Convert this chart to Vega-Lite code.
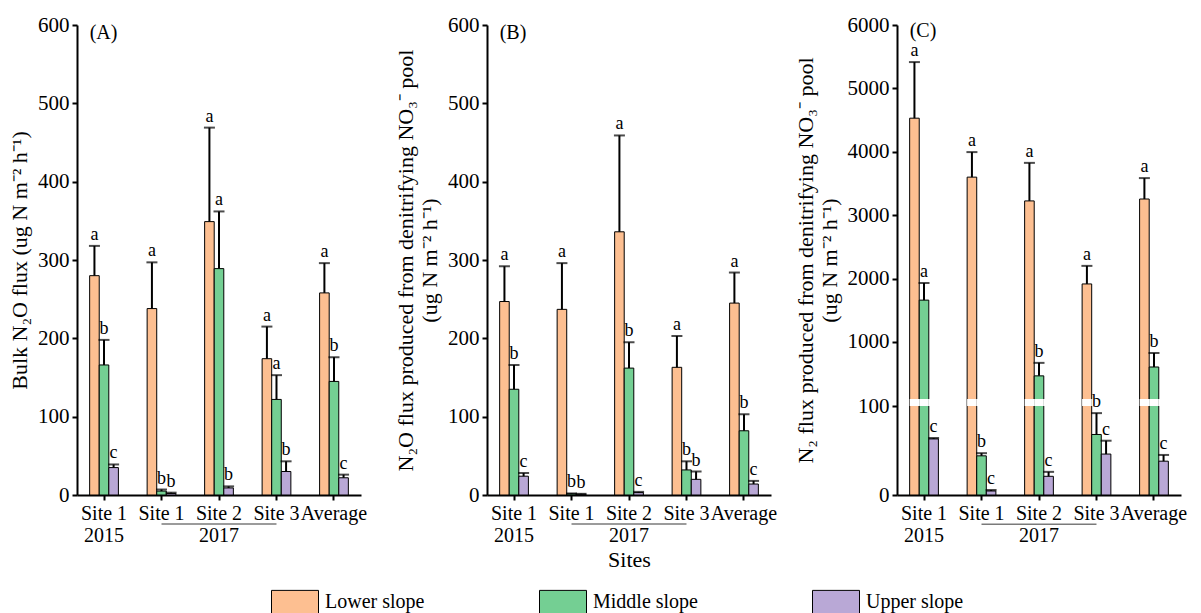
{
  "$schema": "https://vega.github.io/schema/vega-lite/v6.json",
  "background": "white",
  "padding": {"left": 8, "top": 14, "right": 5, "bottom": 0},
  "autosize": {"type": "pad"},
  "datasets": {
    "bars": [
      {"panel": "A", "site": "Site 1 2015", "slope": "Lower slope", "value": 280, "err": 318, "letter": "a"},
      {"panel": "A", "site": "Site 1 2015", "slope": "Middle slope", "value": 166, "err": 198, "letter": "b"},
      {"panel": "A", "site": "Site 1 2015", "slope": "Upper slope", "value": 35, "err": 39, "letter": "c"},
      {"panel": "A", "site": "Site 1 2017", "slope": "Lower slope", "value": 238, "err": 297, "letter": "a"},
      {"panel": "A", "site": "Site 1 2017", "slope": "Middle slope", "value": 5, "err": 7, "letter": "b"},
      {"panel": "A", "site": "Site 1 2017", "slope": "Upper slope", "value": 2, "err": 3, "letter": "b"},
      {"panel": "A", "site": "Site 2", "slope": "Lower slope", "value": 349, "err": 469, "letter": "a"},
      {"panel": "A", "site": "Site 2", "slope": "Middle slope", "value": 289, "err": 362, "letter": "a"},
      {"panel": "A", "site": "Site 2", "slope": "Upper slope", "value": 9, "err": 11, "letter": "b"},
      {"panel": "A", "site": "Site 3", "slope": "Lower slope", "value": 174, "err": 215, "letter": "a"},
      {"panel": "A", "site": "Site 3", "slope": "Middle slope", "value": 122, "err": 153, "letter": "a"},
      {"panel": "A", "site": "Site 3", "slope": "Upper slope", "value": 30, "err": 43, "letter": "b"},
      {"panel": "A", "site": "Average", "slope": "Lower slope", "value": 258, "err": 296, "letter": "a"},
      {"panel": "A", "site": "Average", "slope": "Middle slope", "value": 145, "err": 176, "letter": "b"},
      {"panel": "A", "site": "Average", "slope": "Upper slope", "value": 22, "err": 26, "letter": "c"},
      {"panel": "B", "site": "Site 1 2015", "slope": "Lower slope", "value": 247, "err": 292, "letter": "a"},
      {"panel": "B", "site": "Site 1 2015", "slope": "Middle slope", "value": 135, "err": 166, "letter": "b"},
      {"panel": "B", "site": "Site 1 2015", "slope": "Upper slope", "value": 24, "err": 28, "letter": "c"},
      {"panel": "B", "site": "Site 1 2017", "slope": "Lower slope", "value": 237, "err": 296, "letter": "a"},
      {"panel": "B", "site": "Site 1 2017", "slope": "Middle slope", "value": 1.5, "err": 2, "letter": "b"},
      {"panel": "B", "site": "Site 1 2017", "slope": "Upper slope", "value": 1, "err": 1.5, "letter": "b"},
      {"panel": "B", "site": "Site 2", "slope": "Lower slope", "value": 336, "err": 459, "letter": "a"},
      {"panel": "B", "site": "Site 2", "slope": "Middle slope", "value": 162, "err": 195, "letter": "b"},
      {"panel": "B", "site": "Site 2", "slope": "Upper slope", "value": 3, "err": 4, "letter": "c"},
      {"panel": "B", "site": "Site 3", "slope": "Lower slope", "value": 163, "err": 203, "letter": "a"},
      {"panel": "B", "site": "Site 3", "slope": "Middle slope", "value": 32, "err": 43, "letter": "b"},
      {"panel": "B", "site": "Site 3", "slope": "Upper slope", "value": 20, "err": 30, "letter": "b"},
      {"panel": "B", "site": "Average", "slope": "Lower slope", "value": 245, "err": 284, "letter": "a"},
      {"panel": "B", "site": "Average", "slope": "Middle slope", "value": 82, "err": 103, "letter": "b"},
      {"panel": "B", "site": "Average", "slope": "Upper slope", "value": 14, "err": 18, "letter": "c"},
      {"panel": "C", "site": "Site 1 2015", "slope": "Lower slope", "value": 4530, "err": 5415, "letter": "a"},
      {"panel": "C", "site": "Site 1 2015", "slope": "Middle slope", "value": 1660, "err": 1930, "letter": "a"},
      {"panel": "C", "site": "Site 1 2015", "slope": "Upper slope", "value": 63, "err": 64, "letter": "c"},
      {"panel": "C", "site": "Site 1 2017", "slope": "Lower slope", "value": 3600, "err": 3995, "letter": "a"},
      {"panel": "C", "site": "Site 1 2017", "slope": "Middle slope", "value": 44, "err": 47, "letter": "b"},
      {"panel": "C", "site": "Site 1 2017", "slope": "Upper slope", "value": 4.5, "err": 5.6, "letter": "c"},
      {"panel": "C", "site": "Site 2", "slope": "Lower slope", "value": 3225, "err": 3825, "letter": "a"},
      {"panel": "C", "site": "Site 2", "slope": "Middle slope", "value": 465, "err": 670, "letter": "b"},
      {"panel": "C", "site": "Site 2", "slope": "Upper slope", "value": 21, "err": 26, "letter": "c"},
      {"panel": "C", "site": "Site 3", "slope": "Lower slope", "value": 1915, "err": 2200, "letter": "a"},
      {"panel": "C", "site": "Site 3", "slope": "Middle slope", "value": 68, "err": 92, "letter": "b"},
      {"panel": "C", "site": "Site 3", "slope": "Upper slope", "value": 46, "err": 61, "letter": "c"},
      {"panel": "C", "site": "Average", "slope": "Lower slope", "value": 3255, "err": 3585, "letter": "a"},
      {"panel": "C", "site": "Average", "slope": "Middle slope", "value": 605, "err": 826, "letter": "b"},
      {"panel": "C", "site": "Average", "slope": "Upper slope", "value": 38, "err": 45, "letter": "c"}
    ]
  },
  "spacing": 126,
  "bounds": "flush",
  "resolve": {"scale": {"x": "independent", "y": "independent", "color": "shared"}},
  "hconcat": [
    {
      "width": 284, "height": 470,
      "layer": [
        {
          "data": {"name": "bars"},
          "transform": [{"filter": "datum.panel === 'A'"}],
          "encoding": {
            "x": {"field": "site", "type": "nominal", "scale": {"domain": ["Site 1 2015", "Site 1 2017", "Site 2", "Site 3", "Average"], "paddingInner": 0.5, "paddingOuter": 0.22}, "axis": {"title": null, "labelExpr": "datum.value === 'Site 1 2015' ? ['Site 1','2015'] : datum.value === 'Site 1 2017' ? 'Site 1' : datum.value === 'Site 2' ? ['Site 2','2017'] : datum.value"}},
            "xOffset": {"field": "slope", "type": "nominal", "scale": {"domain": ["Lower slope", "Middle slope", "Upper slope"], "paddingInner": 0, "paddingOuter": 0}}
          },
          "layer": [
            {"mark": {"type": "bar", "stroke": "black", "strokeWidth": 1},
             "encoding": {
               "y": {"field": "value", "type": "quantitative", "title": "Bulk N₂O flux (ug N m⁻² h⁻¹)", "scale": {"domain": [0, 600], "nice": false}, "axis": {"values": [0, 100, 200, 300, 400, 500, 600], "format": "d"}},
               "color": {"field": "slope", "type": "nominal", "title": null, "scale": {"domain": ["Lower slope", "Middle slope", "Upper slope"], "range": ["#FDBF91", "#74CF93", "#B9A8D6"]}}
             }},
            {"mark": {"type": "rule", "color": "black", "strokeWidth": 2},
             "encoding": {"y": {"field": "value", "type": "quantitative", "title": "Bulk N₂O flux (ug N m⁻² h⁻¹)"}, "y2": {"field": "err"}}},
            {"mark": {"type": "tick", "color": "black", "thickness": 2, "size": 11},
             "encoding": {"y": {"field": "err", "type": "quantitative", "title": "Bulk N₂O flux (ug N m⁻² h⁻¹)"}}},
            {"mark": {"type": "text", "baseline": "bottom", "dy": -2, "fontSize": 18, "color": "black"},
             "encoding": {"y": {"field": "err", "type": "quantitative", "title": "Bulk N₂O flux (ug N m⁻² h⁻¹)"}, "text": {"field": "letter"}}}
          ]
        },
        {
          "data": {"values": [{}]},
          "mark": {"type": "rule", "color": "#7a7a7a", "strokeWidth": 1.5},
          "encoding": {"x": {"datum": "Site 1 2017"}, "x2": {"datum": "Site 3"}, "y": {"datum": -37}}
        },
        {
          "data": {"values": [{"label": "(A)"}]},
          "mark": {"type": "text", "align": "left", "baseline": "middle", "fontSize": 20, "dy": 8, "color": "black"},
          "encoding": {"x": {"datum": "Site 1 2015", "bandPosition": 0}, "y": {"datum": 600}, "text": {"field": "label"}}
        }
      ]
    },
    {
      "width": 284, "height": 470,
      "layer": [
        {
          "data": {"name": "bars"},
          "transform": [{"filter": "datum.panel === 'B'"}],
          "encoding": {
            "x": {"field": "site", "type": "nominal", "scale": {"domain": ["Site 1 2015", "Site 1 2017", "Site 2", "Site 3", "Average"], "paddingInner": 0.5, "paddingOuter": 0.22}, "axis": {"title": "Sites", "titleFontSize": 22, "titlePadding": 4, "labelExpr": "datum.value === 'Site 1 2015' ? ['Site 1','2015'] : datum.value === 'Site 1 2017' ? 'Site 1' : datum.value === 'Site 2' ? ['Site 2','2017'] : datum.value"}},
            "xOffset": {"field": "slope", "type": "nominal", "scale": {"domain": ["Lower slope", "Middle slope", "Upper slope"], "paddingInner": 0, "paddingOuter": 0}}
          },
          "layer": [
            {"mark": {"type": "bar", "stroke": "black", "strokeWidth": 1},
             "encoding": {
               "y": {"field": "value", "type": "quantitative", "title": ["N₂O flux produced from denitrifying NO₃⁻ pool", "(ug N m⁻² h⁻¹)"], "scale": {"domain": [0, 600], "nice": false}, "axis": {"values": [0, 100, 200, 300, 400, 500, 600], "format": "d"}},
               "color": {"field": "slope", "type": "nominal", "title": null, "scale": {"domain": ["Lower slope", "Middle slope", "Upper slope"], "range": ["#FDBF91", "#74CF93", "#B9A8D6"]}}
             }},
            {"mark": {"type": "rule", "color": "black", "strokeWidth": 2},
             "encoding": {"y": {"field": "value", "type": "quantitative", "title": ["N₂O flux produced from denitrifying NO₃⁻ pool", "(ug N m⁻² h⁻¹)"]}, "y2": {"field": "err"}}},
            {"mark": {"type": "tick", "color": "black", "thickness": 2, "size": 11},
             "encoding": {"y": {"field": "err", "type": "quantitative", "title": ["N₂O flux produced from denitrifying NO₃⁻ pool", "(ug N m⁻² h⁻¹)"]}}},
            {"mark": {"type": "text", "baseline": "bottom", "dy": -2, "fontSize": 18, "color": "black"},
             "encoding": {"y": {"field": "err", "type": "quantitative", "title": ["N₂O flux produced from denitrifying NO₃⁻ pool", "(ug N m⁻² h⁻¹)"]}, "text": {"field": "letter"}}}
          ]
        },
        {
          "data": {"values": [{}]},
          "mark": {"type": "rule", "color": "#7a7a7a", "strokeWidth": 1.5},
          "encoding": {"x": {"datum": "Site 1 2017"}, "x2": {"datum": "Site 3"}, "y": {"datum": -37}}
        },
        {
          "data": {"values": [{"label": "(B)"}]},
          "mark": {"type": "text", "align": "left", "baseline": "middle", "fontSize": 20, "dy": 8, "color": "black"},
          "encoding": {"x": {"datum": "Site 1 2015", "bandPosition": 0}, "y": {"datum": 600}, "text": {"field": "label"}}
        }
      ]
    },
    {
      "width": 284, "height": 470,
      "layer": [
        {
          "data": {"name": "bars"},
          "transform": [{"filter": "datum.panel === 'C'"}],
          "encoding": {
            "x": {"field": "site", "type": "nominal", "scale": {"domain": ["Site 1 2015", "Site 1 2017", "Site 2", "Site 3", "Average"], "paddingInner": 0.5, "paddingOuter": 0.22}, "axis": {"title": null, "labelExpr": "datum.value === 'Site 1 2015' ? ['Site 1','2015'] : datum.value === 'Site 1 2017' ? 'Site 1' : datum.value === 'Site 2' ? ['Site 2','2017'] : datum.value"}},
            "xOffset": {"field": "slope", "type": "nominal", "scale": {"domain": ["Lower slope", "Middle slope", "Upper slope"], "paddingInner": 0, "paddingOuter": 0}}
          },
          "layer": [
            {"mark": {"type": "bar", "stroke": "black", "strokeWidth": 1},
             "encoding": {
               "y": {"field": "value", "type": "quantitative", "title": ["N₂ flux produced from denitrifying NO₃⁻ pool", "(ug N m⁻² h⁻¹)"], "scale": {"type": "linear", "domain": [0, 100, 100.01, 6000], "range": [470, 381, 374, 0], "nice": false, "zero": false}, "axis": {"values": [0, 100, 1000, 2000, 3000, 4000, 5000, 6000], "format": "d"}},
               "color": {"field": "slope", "type": "nominal", "title": null, "scale": {"domain": ["Lower slope", "Middle slope", "Upper slope"], "range": ["#FDBF91", "#74CF93", "#B9A8D6"]}}
             }},
            {"mark": {"type": "rect", "color": "white"},
             "encoding": {"y": {"datum": 100}, "y2": {"datum": 100.01}}},
            {"mark": {"type": "rule", "color": "black", "strokeWidth": 2},
             "encoding": {"y": {"field": "value", "type": "quantitative", "title": ["N₂ flux produced from denitrifying NO₃⁻ pool", "(ug N m⁻² h⁻¹)"]}, "y2": {"field": "err"}}},
            {"mark": {"type": "tick", "color": "black", "thickness": 2, "size": 11},
             "encoding": {"y": {"field": "err", "type": "quantitative", "title": ["N₂ flux produced from denitrifying NO₃⁻ pool", "(ug N m⁻² h⁻¹)"]}}},
            {"mark": {"type": "text", "baseline": "bottom", "dy": -2, "fontSize": 18, "color": "black"},
             "encoding": {"y": {"field": "err", "type": "quantitative", "title": ["N₂ flux produced from denitrifying NO₃⁻ pool", "(ug N m⁻² h⁻¹)"]}, "text": {"field": "letter"}}}
          ]
        },
        {
          "data": {"values": [{}]},
          "mark": {"type": "rule", "color": "#7a7a7a", "strokeWidth": 1.5},
          "encoding": {"x": {"datum": "Site 1 2017"}, "x2": {"datum": "Site 3"}, "y": {"datum": -33}}
        },
        {
          "data": {"values": [{"label": "(C)"}]},
          "mark": {"type": "text", "align": "left", "baseline": "middle", "fontSize": 20, "dy": 6, "color": "black"},
          "encoding": {"x": {"datum": "Site 1 2015", "bandPosition": 0}, "y": {"datum": 6000}, "text": {"field": "label"}}
        }
      ]
    }
  ],
  "config": {
    "font": "Liberation Serif",
    "view": {"stroke": null},
    "axis": {"grid": false, "domainColor": "black", "domainWidth": 2, "tickColor": "black", "tickWidth": 2, "tickSize": 5, "labelFont": "Liberation Serif", "labelFontSize": 20, "labelColor": "black", "titleFont": "Liberation Serif", "titleFontSize": 22, "titleFontWeight": "normal", "titleColor": "black", "titleLineHeight": 24},
    "axisX": {"labelAngle": 0, "labelLineHeight": 22, "labelPadding": 3},
    "axisY": {"labelPadding": 3, "titlePadding": 6, "labelFontSize": 21},
    "legend": {"orient": "none", "legendX": 194, "legendY": 553, "direction": "horizontal", "padding": 0, "symbolType": "M-1,-0.5H1V0.5H-1Z", "symbolSize": 2209, "symbolStrokeColor": "black", "symbolStrokeWidth": 1, "symbolOpacity": 1, "labelFont": "Liberation Serif", "labelFontSize": 20, "labelColor": "black", "labelOffset": 6, "columnPadding": 112, "labelLimit": 300}
  }
}
